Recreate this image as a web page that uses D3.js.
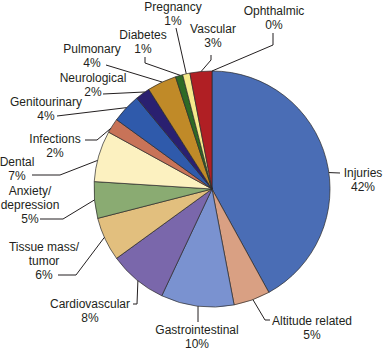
<!DOCTYPE html>
<html>
<head>
<meta charset="utf-8">
<script src="https://cdn.jsdelivr.net/npm/d3@7"></script>
<style>
  html, body { margin: 0; padding: 0; background: #fff; }
  svg { display: block; }
  text { font-family: "Liberation Sans", Arial, Helvetica, sans-serif; font-size: 12px; fill: #231f20; }
</style>
</head>
<body>
<svg id="chart" width="384" height="352"></svg>
<script>
// ---- data ----
const categories = ["Injuries", "Altitude related", "Gastrointestinal", "Cardiovascular",
  "Tissue mass/tumor", "Anxiety/depression", "Dental", "Infections", "Genitourinary",
  "Neurological", "Pulmonary", "Diabetes", "Pregnancy", "Vascular", "Ophthalmic"];
const values = [42, 5, 10, 8, 6, 5, 7, 2, 4, 2, 4, 1, 1, 3, 0];
const labelLines = [["Injuries"], ["Altitude related"], ["Gastrointestinal"], ["Cardiovascular"],
  ["Tissue mass/", "tumor"], ["Anxiety/", "depression"], ["Dental"], ["Infections"], ["Genitourinary"],
  ["Neurological"], ["Pulmonary"], ["Diabetes"], ["Pregnancy"], ["Vascular"], ["Ophthalmic"]];

// ---- styles ----
const colors = ["#4a6db5", "#d9a083", "#7a92d0", "#7a67ab", "#e2bf7e", "#8aab72", "#fcf1c0",
  "#c87358", "#2f5aab", "#2a2070", "#c08a28", "#2e6a25", "#f5ea8a", "#b01f24", "#999999"];

// ---- label layout (anchor angle on rim in degrees, elbow points, text centre/first baseline) ----
const layout = [
  { a: 82,    pts: [[340,173]],            tx: 363, ty: 177 },
  { a: 159.7, pts: [[265,320],[270,320]],  tx: 312, ty: 325 },
  { a: 186.8, pts: [[198,322]],            tx: 197, ty: 334 },
  { a: 218.9, pts: [[137,304],[133,304]],  tx: 90,  ty: 308 },
  { a: 245.8, pts: [[76,275],[58,275]],    tx: 44,  ty: 251 },
  { a: 264.7, pts: [[63,219],[40,219]],    tx: 30,  ty: 195 },
  { a: 284,   pts: [[60,175],[32,175]],    tx: 17,  ty: 166 },
  { a: 300.9, pts: [[97,140],[85,140]],    tx: 55,  ty: 143 },
  { a: 313.6, pts: [[57,116]],             tx: 46,  ty: 106 },
  { a: 325.3, pts: [[103,94]],             tx: 93,  ty: 82 },
  { a: 335,   pts: [[106,65]],             tx: 92,  ty: 53 },
  { a: 344.4, pts: [[145,63],[145,57]],    tx: 143, ty: 39 },
  { a: 347.4, pts: [[176,28]],             tx: 173, ty: 11 },
  { a: 354.7, pts: [[211,60],[211,55]],    tx: 213, ty: 33 },
  { a: 0,     pts: [[273,45],[273,33]],    tx: 274, ty: 15 }
];

const cx = 212, cy = 189, R = 118, lineH = 14;
const svg = d3.select("#chart");
const g = svg.append("g").attr("transform", `translate(${cx},${cy})`);

const pie = d3.pie().sort(null).value(d => d).startAngle(0).endAngle(2 * Math.PI);
const arcs = pie(values);
const arc = d3.arc().innerRadius(0).outerRadius(R);

g.selectAll("path.slice")
  .data(arcs)
  .enter().append("path")
  .attr("class", "slice")
  .attr("d", arc)
  .attr("fill", (d, i) => colors[i])
  .attr("stroke", "#2a2a2a")
  .attr("stroke-width", d => d.value > 0 ? 0.7 : 0)
  .attr("stroke-linejoin", "round");

// leaders
const rim = deg => {
  const t = deg * Math.PI / 180;
  return [cx + R * Math.sin(t), cy - R * Math.cos(t)];
};
const line = d3.line();
svg.selectAll("path.leader")
  .data(layout)
  .enter().append("path")
  .attr("class", "leader")
  .attr("d", d => line([rim(d.a)].concat(d.pts)))
  .attr("fill", "none")
  .attr("stroke", "#231f20")
  .attr("stroke-width", 1);

// labels
const lbl = svg.selectAll("text.lbl")
  .data(layout)
  .enter().append("text")
  .attr("class", "lbl")
  .attr("text-anchor", "middle")
  .attr("x", d => d.tx)
  .attr("y", d => d.ty);

lbl.each(function(d, i) {
  const t = d3.select(this);
  const lines = labelLines[i].concat([values[i] + "%"]);
  lines.forEach((s, k) => {
    t.append("tspan").attr("x", d.tx).attr("y", d.ty + k * lineH).text(s);
  });
});
</script>
</body>
</html>
